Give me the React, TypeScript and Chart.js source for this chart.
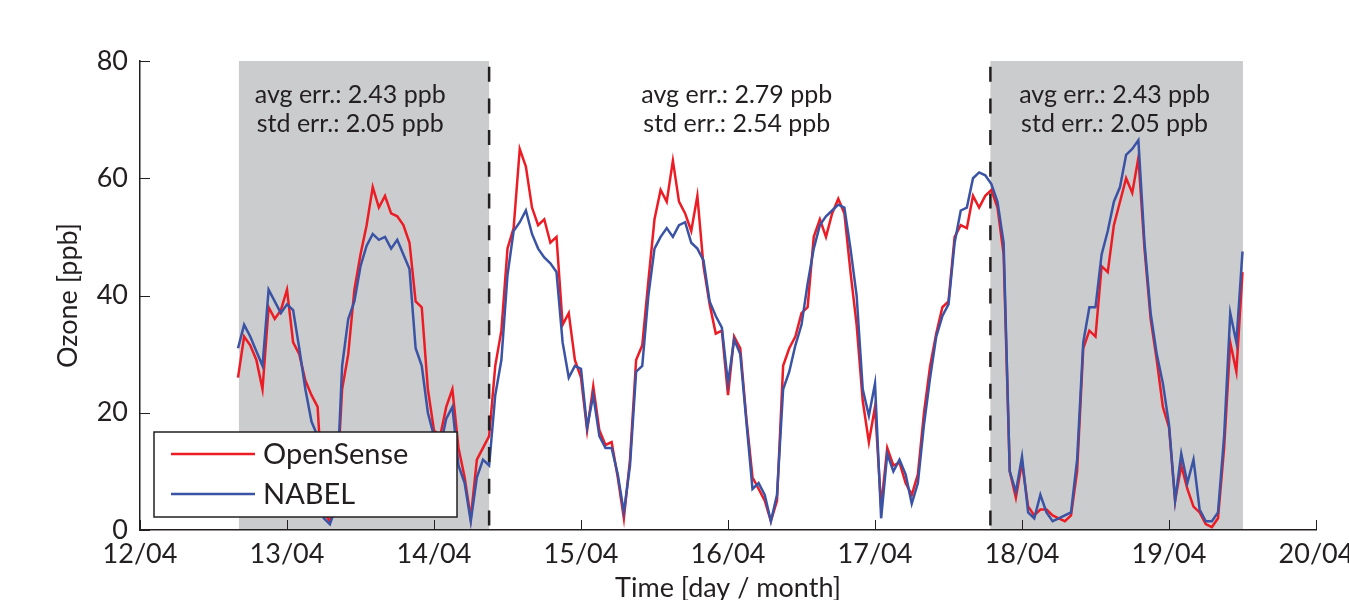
import React, { useEffect, useRef } from 'react';
import { Chart, registerables } from 'chart.js';

Chart.register(...registerables);

// Time axis: days of April (12 = 12/04 00:00). Samples are hourly from 12/04 16:00.
const startDay = 12 + 16 / 24;
const stepDays = 1 / 24;

const openSense = [
  26, 33, 31.5, 29, 24, 38, 36, 37.5, 41, 32, 30, 25.5, 23, 21, 3, 1.5, 5, 24, 30, 41,
  47, 52, 58.5, 55, 57, 54, 53.5, 52, 49, 39, 38, 24, 17, 16, 21, 24, 14, 9, 2, 12,
  14, 16, 28, 34, 48, 51.5, 65, 62, 55, 52, 53, 49, 50, 35, 37, 29, 26, 17, 24.5, 17,
  14.5, 15, 9, 2, 12, 29, 31.5, 42.5, 53, 58, 56, 63, 56, 54, 51, 57, 45, 38.5, 33.5, 34,
  23, 33, 31, 19, 9, 7, 5, 1.5, 5, 28, 31, 33, 37, 38, 50, 53, 50, 54, 56.5, 54,
  44, 35, 22, 15, 21, 4, 14, 11, 11.5, 8, 6, 9.5, 20, 28, 33.5, 38, 39, 50, 52, 51.5,
  57, 55, 57, 58, 55, 47, 10, 5.5, 11.5, 4, 2.5, 3.5, 3.5, 2.5, 2, 1.5, 2.5, 10, 31, 34,
  33, 45, 44, 52, 56, 60, 57.5, 63.5, 48, 36, 29, 21, 17.5, 5, 11, 7, 4, 3, 1, 0.5,
  2, 14, 32, 27, 44,
];

const nabel = [
  31, 35, 33, 30.5, 28, 41, 39, 37, 38.5, 37.5, 31, 24, 18.5, 16, 2, 1, 4, 28, 36, 39,
  45, 48.5, 50.5, 49.5, 50, 48, 49.5, 47, 44.5, 31, 28, 20, 16, 14, 19, 21, 11, 8, 1.5, 9,
  12, 11, 23, 29, 43.5, 51, 52.5, 54.5, 50.5, 48, 46.5, 45.5, 44, 32, 26, 28, 27.5, 17.5, 23, 16,
  14, 14, 9.5, 3, 11, 27, 28, 40, 48, 50, 51.5, 50, 52, 52.5, 49, 48, 46, 39, 36.5, 34.5,
  25, 32.5, 30, 18.5, 7, 8, 6, 1.5, 6, 24, 27, 31.5, 35, 42, 48, 52, 53.5, 54.5, 55.5, 55,
  48, 40, 24, 19.5, 25, 2, 13, 10, 12, 9.5, 4.5, 8, 18, 26, 33, 36.5, 38.5, 49, 54.5, 55,
  60, 61, 60.5, 59, 56, 49, 10, 6.5, 12.5, 3, 2, 6, 3, 1.5, 2, 2.5, 3, 12, 32, 38,
  38, 47, 51, 56, 58.5, 64, 65, 66.5, 49, 37, 30, 25, 18, 5, 13, 8, 12, 3.5, 1.5, 1.5,
  3, 16, 37, 32, 47.5,
];

const xTickLabels = ['12/04', '13/04', '14/04', '15/04', '16/04', '17/04', '18/04', '19/04', '20/04'];
const shadedPeriods = [
  [12.673, 14.375],
  [17.785, 19.503],
];
const dividerDays = [14.375, 17.785];
const errorLines = [
  ['avg err.: 2.43 ppb', 'std err.: 2.05 ppb'],
  ['avg err.: 2.79 ppb', 'std err.: 2.54 ppb'],
  ['avg err.: 2.43 ppb', 'std err.: 2.05 ppb'],
];
const errorLabelDays = [13.43, 16.06, 18.63];
const errorLabelLevels = [74.2, 69.25];

const FONT = 'Lato, "Open Sans", sans-serif';
const INK = '#231f20';

const decorPlugin = {
  id: 'decor',
  beforeDraw(chart: any) {
    const { ctx, chartArea: a, scales } = chart;
    const x = scales.x;
    ctx.save();
    ctx.fillStyle = '#cbccce';
    for (const [s, e] of shadedPeriods) {
      const x0 = x.getPixelForValue(s);
      const x1 = x.getPixelForValue(e);
      ctx.fillRect(x0, a.top, x1 - x0, a.bottom - a.top);
    }
    ctx.restore();
  },
  beforeDatasetsDraw(chart: any) {
    const { ctx, chartArea: a, scales } = chart;
    const { x, y } = scales;
    ctx.save();
    ctx.strokeStyle = INK;
    ctx.lineWidth = 1;
    for (const t of y.ticks) {
      const py = Math.round(y.getPixelForValue(t.value)) + 0.5;
      ctx.beginPath();
      ctx.moveTo(a.left, py);
      ctx.lineTo(a.left + 10, py);
      ctx.stroke();
    }
    for (const t of x.ticks) {
      const px = Math.round(x.getPixelForValue(t.value)) + 0.5;
      ctx.beginPath();
      ctx.moveTo(px, a.bottom);
      ctx.lineTo(px, a.bottom - 10);
      ctx.stroke();
    }
    ctx.restore();
  },
  afterDatasetsDraw(chart: any) {
    const { ctx, chartArea: a, scales } = chart;
    const { x, y } = scales;
    ctx.save();
    // dashed dividers
    ctx.strokeStyle = INK;
    ctx.lineWidth = 2.5;
    ctx.setLineDash([15, 16.7]);
    ctx.lineDashOffset = 26;
    for (const d of dividerDays) {
      const px = x.getPixelForValue(d);
      ctx.beginPath();
      ctx.moveTo(px, a.top);
      ctx.lineTo(px, a.bottom);
      ctx.stroke();
    }
    ctx.setLineDash([]);
    // error annotations
    ctx.fillStyle = INK;
    ctx.font = `25px ${FONT}`;
    ctx.textAlign = 'center';
    ctx.textBaseline = 'middle';
    errorLines.forEach((lines, k) => {
      const px = x.getPixelForValue(errorLabelDays[k]);
      lines.forEach((txt, j) => {
        ctx.fillText(txt, px, y.getPixelForValue(errorLabelLevels[j]));
      });
    });
    ctx.restore();
  },
  afterDraw(chart: any) {
    const { ctx } = chart;
    const box = { left: 154, top: 432, right: 457, bottom: 517 };
    ctx.save();
    ctx.fillStyle = '#ffffff';
    ctx.fillRect(box.left, box.top, box.right - box.left, box.bottom - box.top);
    ctx.strokeStyle = INK;
    ctx.lineWidth = 1.5;
    ctx.strokeRect(box.left, box.top, box.right - box.left, box.bottom - box.top);
    const rows = [454, 494];
    chart.data.datasets.forEach((ds: any, i: number) => {
      const ry = rows[i];
      ctx.strokeStyle = ds.borderColor;
      ctx.lineWidth = 2.5;
      ctx.beginPath();
      ctx.moveTo(171, ry);
      ctx.lineTo(255, ry);
      ctx.stroke();
      ctx.fillStyle = INK;
      ctx.font = `29px ${FONT}`;
      ctx.textAlign = 'left';
      ctx.textBaseline = 'middle';
      ctx.fillText(ds.label, 263, ry + 1);
    });
    ctx.restore();
  },
};

export default function App() {
  const canvasRef = useRef<HTMLCanvasElement | null>(null);

  useEffect(() => {
    document.body.style.margin = '0';
    document.documentElement.style.overflow = 'hidden';
    const canvas = canvasRef.current;
    if (!canvas) return;
    const toPoints = (vals: number[]) => vals.map((v, i) => ({ x: startDay + i * stepDays, y: v }));
    const tickFont = { family: FONT, size: 27 };
    const chart = new Chart(canvas, {
      type: 'line',
      data: {
        datasets: [
          {
            label: 'OpenSense',
            data: toPoints(openSense),
            borderColor: '#ed1c24',
            borderWidth: 2.5,
            pointRadius: 0,
            tension: 0,
            order: 1,
          },
          {
            label: 'NABEL',
            data: toPoints(nabel),
            borderColor: '#3a53a4',
            borderWidth: 2.5,
            pointRadius: 0,
            tension: 0,
            order: 0,
          },
        ],
      },
      options: {
        animation: false,
        responsive: false,
        devicePixelRatio: 1,
        layout: { padding: { left: 0, top: 61, right: 33, bottom: 0 } },
        plugins: { legend: { display: false }, tooltip: { enabled: false } },
        scales: {
          x: {
            type: 'linear',
            position: 'bottom',
            min: 12,
            max: 20,
            ticks: {
              stepSize: 1,
              autoSkip: false,
              maxRotation: 0,
              padding: 8,
              color: INK,
              font: tickFont,
              callback: (v: any) => xTickLabels[Math.round(Number(v) - 12)] ?? '',
            },
            grid: { display: false, drawTicks: false },
            border: { display: true, color: INK, width: 1.5 },
            title: {
              display: true,
              text: 'Time [day / month]',
              color: INK,
              font: tickFont,
              padding: { top: 0, bottom: -4 },
            },
            afterFit: (s: any) => {
              s.height = 70;
              s.paddingLeft = 0;
              s.paddingRight = 0;
            },
          },
          y: {
            type: 'linear',
            min: 0,
            max: 80,
            ticks: { stepSize: 20, padding: 12, color: INK, font: tickFont },
            grid: { display: false, drawTicks: false },
            border: { display: true, color: INK, width: 1.5 },
            title: {
              display: true,
              text: 'Ozone [ppb]',
              color: INK,
              font: tickFont,
              padding: { top: 52, bottom: 0 },
            },
            afterFit: (s: any) => {
              s.width = 140;
            },
          },
        },
      },
      plugins: [decorPlugin],
    } as any);
    return () => chart.destroy();
  }, []);

  return (
    <div style={{ position: 'absolute', left: 0, top: 0, width: 1349, height: 600 }}>
      <canvas ref={canvasRef} width={1349} height={600} style={{ display: 'block' }} />
    </div>
  );
}
